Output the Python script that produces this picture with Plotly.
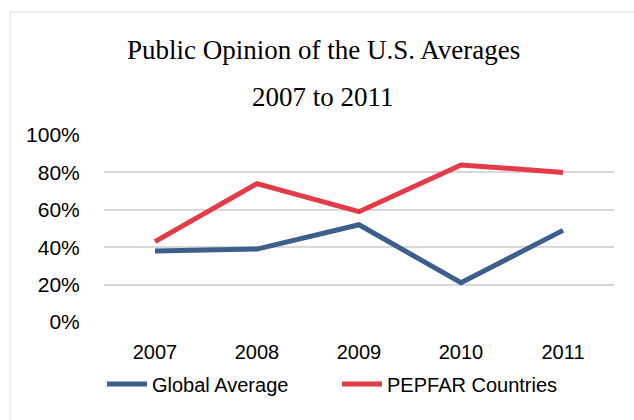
import plotly.graph_objects as go

years = ["2007", "2008", "2009", "2010", "2011"]
global_avg = [38, 39, 52, 21, 49]
pepfar = [43, 74, 59, 84, 80]
y_ticks = [0, 20, 40, 60, 80, 100]
y_tick_text = ["0%", "20%", "40%", "60%", "80%", "100%"]
title_lines = ["Public Opinion of the U.S. Averages", "2007 to 2011"]

fig = go.Figure()
fig.add_trace(go.Scatter(x=years, y=global_avg, mode="lines", name="Global Average",
                         line=dict(color="#3D5F8C", width=5)))
fig.add_trace(go.Scatter(x=years, y=pepfar, mode="lines", name="PEPFAR Countries",
                         line=dict(color="#E53A48", width=5)))

L, R, T, B = 104, 20, 135, 98
W, H = 634, 420
pw, ph = W - L - R, H - T - B

fig.add_shape(type="rect", xref="paper", yref="paper",
              x0=(10 - L) / pw, x1=(645 - L) / pw,
              y0=1 + (T - 12) / ph, y1=(H - B - 430) / ph,
              line=dict(color="#D9D9D9", width=1), fillcolor="rgba(0,0,0,0)", layer="below")

for txt, ypx in zip(title_lines, [50, 97]):
    fig.add_annotation(text=txt, xref="paper", yref="paper",
                       x=(323 - L) / pw, xanchor="center",
                       y=1 + (T - ypx) / ph, yanchor="middle", showarrow=False,
                       font=dict(family="Liberation Serif", size=27, color="#000000"))

fig.update_layout(
    width=W, height=H,
    margin=dict(l=L, r=R, t=T, b=B),
    paper_bgcolor="white", plot_bgcolor="white",
    showlegend=True,
    legend=dict(orientation="h", x=(102 - L) / pw, xanchor="left",
                y=(H - B - 384) / ph, yanchor="middle",
                font=dict(family="Liberation Sans", size=20, color="#000000"),
                itemwidth=40, entrywidth=180, entrywidthmode="pixels", tracegroupgap=0),
    xaxis=dict(type="category", range=[-0.5, 4.5], showgrid=False, zeroline=False,
               showline=False, ticks="outside", ticklen=12, tickcolor="white",
               tickfont=dict(family="Liberation Sans", size=20, color="#000000")),
    yaxis=dict(range=[0, 100], tickmode="array", tickvals=y_ticks, ticktext=y_tick_text,
               showgrid=True, gridcolor="#D9D9D9", gridwidth=1.5, zeroline=False,
               showline=False, ticks="outside", ticklen=19, tickcolor="white",
               tickfont=dict(family="Liberation Sans", size=21, color="#000000")),
)

fig.write_html("out.html")
